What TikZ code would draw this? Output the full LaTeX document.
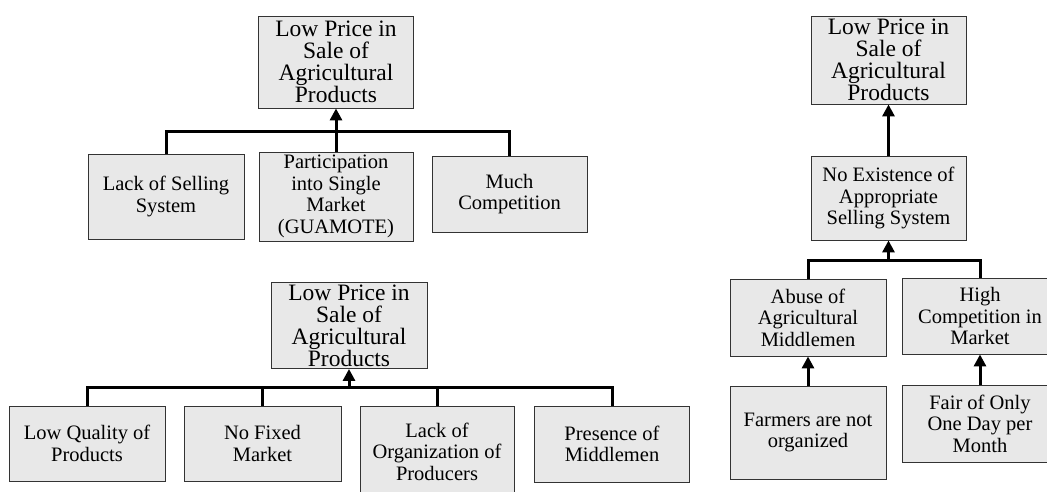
\documentclass[tikz,border=0pt]{standalone}
\usepackage{fontspec}
\setmainfont{Liberation Serif}
\usetikzlibrary{arrows.meta}
\definecolor{boxfill}{HTML}{E8E8E8}
\definecolor{boxline}{HTML}{333333}
\begin{document}
\begin{tikzpicture}[x=1pt,y=-1pt,
  box/.style={draw=boxline, fill=boxfill, line width=0.9pt, align=center, inner sep=0pt,
              font=\fontsize{20.5}{21.5}\selectfont},
  titlebox/.style={box, font=\fontsize{23.5}{22}\selectfont},
  conn/.style={line width=3pt, line join=miter},
  arr/.style={conn, -{Triangle[length=12pt,width=12pt]}}]
\useasboundingbox (0,0) rectangle (1047,492);
\begin{scope}
\clip (0,0) rectangle (1047,492);
% ---------- group A (top left)
\node[titlebox, minimum width=155pt, minimum height=92pt] (tA) at (336,62) {Low Price in\\Sale of\\Agricultural\\Products};
\node[box, minimum width=156pt, minimum height=85pt] (a1) at (166,196.5) {Lack of Selling\\System};
\node[box, minimum width=154pt, minimum height=89pt] (a2) at (336,196.5) {Participation\\into Single\\Market\\(GUAMOTE)};
\node[box, minimum width=155pt, minimum height=76pt] (a3) at (509.5,194) {Much\\Competition};
\coordinate (jA) at (336,132);
\draw[conn] (a1.north) |- (jA) -| (a3.north);
\draw[conn] (a2.north) -- (jA);
\draw[arr] (jA) -- (tA.south);
% ---------- group B (bottom left)
\node[titlebox, minimum width=156pt, minimum height=86pt] (tB) at (349,325.5) {Low Price in\\Sale of\\Agricultural\\Products};
\node[box, minimum width=156pt, minimum height=75pt] (b1) at (87,443.5) {Low Quality of\\Products};
\node[box, minimum width=157pt, minimum height=75pt] (b2) at (262.5,443.5) {No Fixed\\Market};
\node[box, minimum width=154pt, minimum height=91pt] (b3) at (437,451.5) {Lack of\\Organization of\\Producers};
\node[box, minimum width=155pt, minimum height=76pt] (b4) at (612,444) {Presence of\\Middlemen};
\coordinate (jB) at (349,387);
\draw[conn] (b1.north) |- (jB) -| (b4.north);
\draw[conn] (b2.north) |- (jB);
\draw[conn] (b3.north) |- (jB);
\draw[arr] (jB) -- (tB.south);
% ---------- group C (right)
\node[titlebox, minimum width=155pt, minimum height=88pt] (tC) at (888.5,60) {Low Price in\\Sale of\\Agricultural\\Products};
\node[box, minimum width=155pt, minimum height=84pt] (c1) at (888.5,198) {No Existence of\\Appropriate\\Selling System};
\node[box, minimum width=156pt, minimum height=77pt] (c2) at (808,317.5) {Abuse of\\Agricultural\\Middlemen};
\node[box, minimum width=156pt, minimum height=76pt] (c3) at (980,316) {High\\Competition in\\Market};
\node[box, minimum width=156pt, minimum height=93pt] (c4) at (808,432.5) {Farmers are not\\organized};
\node[box, minimum width=156pt, minimum height=77pt] (c5) at (980,423.5) {Fair of Only\\One Day per\\Month};
\draw[arr] (c1.north) -- (tC.south);
\coordinate (jC) at (888.5,260);
\draw[conn] (c2.north) |- (jC) -| (c3.north);
\draw[arr] (jC) -- (c1.south);
\draw[arr] (c4.north) -- (c2.south);
\draw[arr] (c5.north) -- (c3.south);
\end{scope}
\end{tikzpicture}
\end{document}
